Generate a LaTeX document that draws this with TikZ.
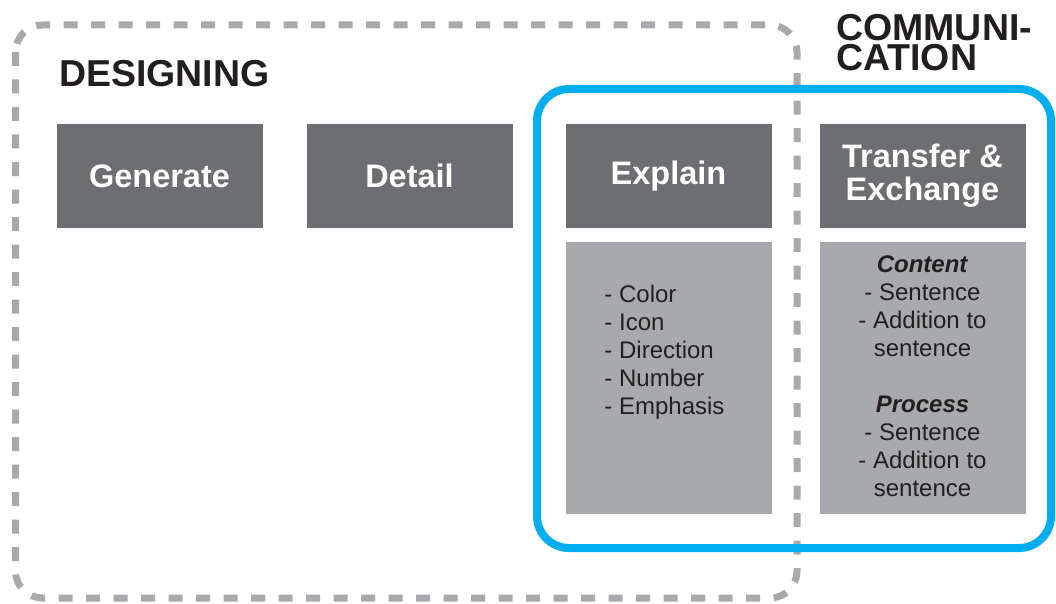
\documentclass[tikz,border=0pt]{standalone}
\usepackage{fontspec}
\setmainfont{Liberation Sans}
\usepackage{xcolor}
\usepackage{tikz}
\usetikzlibrary{positioning}
\definecolor{boxdark}{RGB}{109, 110, 113}
\definecolor{boxlight}{RGB}{167, 169, 172}
\definecolor{zonegray}{RGB}{167, 169, 172}
\definecolor{commblue}{RGB}{0, 174, 239}
\definecolor{inkblack}{RGB}{35, 31, 32}

\begin{document}
\begin{tikzpicture}[x=1pt, y=-1pt,
    stagebox/.style={fill=boxdark, text=white, inner sep=0pt, minimum width=206pt, minimum height=104pt,
        align=center, font=\fontsize{32.5}{33}\selectfont\bfseries},
    notebox/.style={fill=boxlight, inner sep=0pt, minimum width=206pt, minimum height=272pt},
    notetext/.style={text=inkblack, inner sep=0pt, font=\fontsize{24}{28}\selectfont},
    zonetitle/.style={text=inkblack, inner sep=0pt, align=left, font=\fontsize{37.5}{30}\selectfont\bfseries}]
    \useasboundingbox (0,0) rectangle (1056,604);

    % Zones
    \draw[zonegray, line width=7pt, rounded corners=27pt, dash pattern=on 14pt off 13.5pt] (15.5,25) rectangle (797,598);
    \draw[commblue, line width=8pt, rounded corners=32pt] (537,89) rectangle (1051,548);

    % Zone titles
    \node[zonetitle, anchor=base west] (designing) at (59,87) {DESIGNING};
    \node[zonetitle, anchor=north west] (communication) at (836,14) {COMMUNI-\\CATION};

    % Stages
    \foreach \x/\name/\label in {159.5/generate/Generate, 409.5/detail/Detail, 668.5/explain/Explain, 922.5/transfer/{Transfer \&\\Exchange}} {
        \node[stagebox] (\name) at (\x,176) {\label};
    }

    % Notes below the stages
    \node[notebox, below=14pt of explain] (explainnotes) {};
    \node[notebox, below=14pt of transfer] (transfernotes) {};

    \node[notetext, align=left, anchor=north] (explainlist) at ([xshift=-4pt, yshift=-43pt]explainnotes.north) {- Color\\- Icon\\- Direction\\- Number\\- Emphasis};
    \node[notetext, align=center, anchor=north] (transferlist) at ([yshift=-13pt]transfernotes.north)
        {\textbf{\textit{Content}}\\- Sentence\\- Addition to\\sentence\\[28pt]\textbf{\textit{Process}}\\- Sentence\\- Addition to\\sentence};
\end{tikzpicture}
\end{document}
